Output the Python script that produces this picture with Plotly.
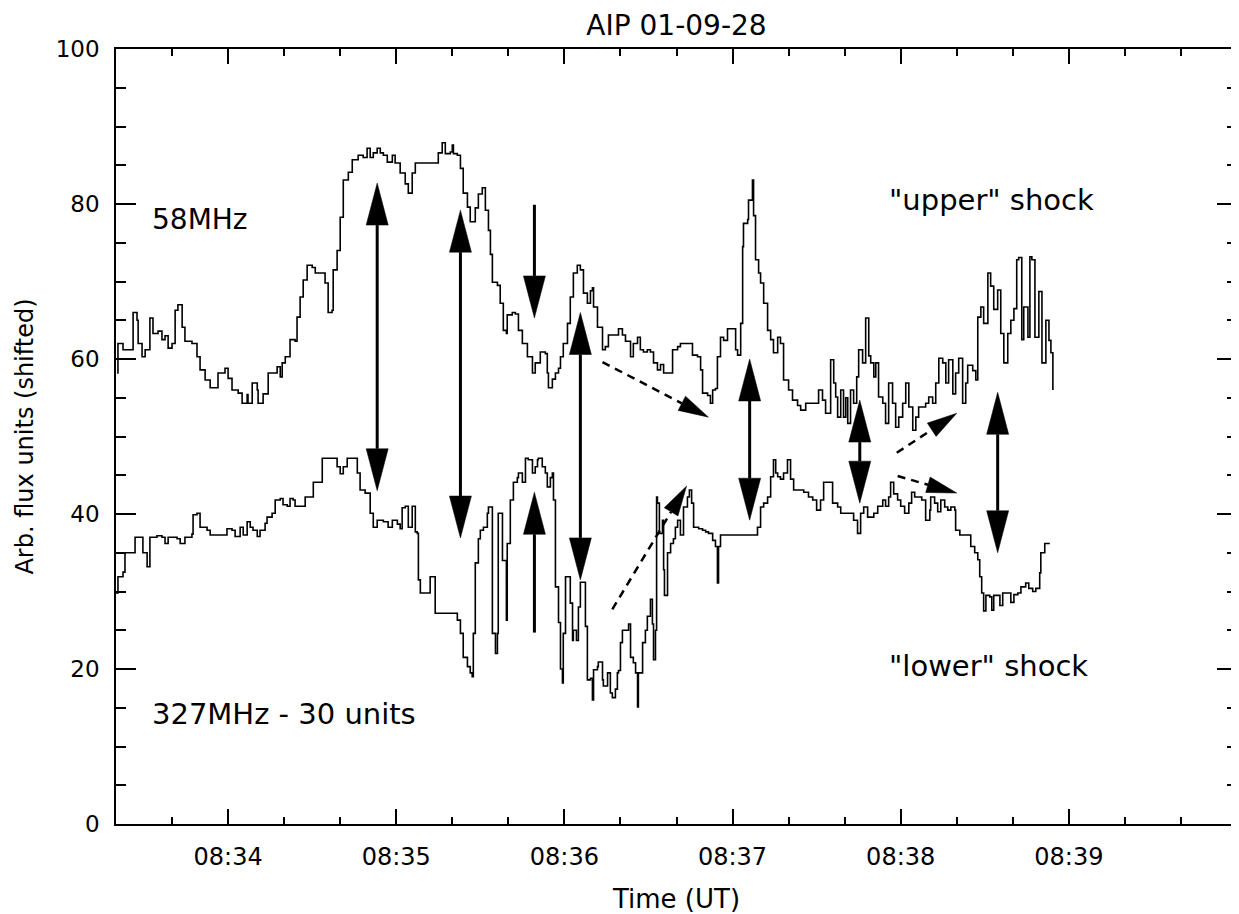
import math
from datetime import datetime, timedelta
import plotly.graph_objects as go

BASE = datetime(2001, 9, 28, 8, 33, 0)

# ---- 58 MHz trace: seconds after 08:33:00, arbitrary flux units ----
t58 = [20.4, 20.7, 22.5, 22.5, 25.7, 26.1, 27.5, 27.9, 29.3, 30.4, 32.1, 33.2, 35.0, 36.4, 37.5, 38.6,
       40.0, 41.1, 42.1, 43.6, 44.6, 47.1, 48.9, 50.0, 51.8, 53.6, 55.4, 56.4, 58.9, 60.0, 61.4, 63.6,
       65.0, 66.8, 67.1, 68.6, 70.4, 70.7, 72.5, 74.3, 77.5, 78.6, 79.3, 80.4, 82.1, 83.9, 84.6, 85.7,
       86.8, 88.2, 90.0, 91.1, 93.6, 94.6, 95.7, 97.1, 97.5, 98.9, 100.0, 101.1, 102.9, 104.3, 106.4,
       108.2, 109.6, 110.7, 111.8, 113.2, 114.3, 115.4, 116.8, 118.6, 119.6, 121.4, 123.2, 124.3, 125.7,
       126.8, 134.6, 135.0, 136.4, 137.5, 139.3, 140.0, 140.4, 141.8, 142.9, 143.9, 145.4, 146.4, 147.5,
       148.2, 149.3, 150.7, 151.8, 152.9, 153.6, 154.3, 156.1, 157.1, 158.2, 159.3, 159.6, 161.4, 162.5,
       163.6, 165.0, 166.8, 168.6, 169.6, 171.4, 173.2, 173.9, 174.3, 175.7, 176.8, 177.9, 178.6, 179.6,
       181.1, 182.1, 183.2, 184.6, 185.7, 186.8, 188.2, 189.3, 190.0, 190.4, 191.8, 193.6, 194.6, 195.7,
       198.9, 199.3, 200.7, 201.8, 203.6, 204.6, 206.1, 207.1, 208.2, 209.6, 210.7, 211.8, 213.2, 214.3,
       215.4, 217.9, 218.6, 220.4, 221.4, 225.0, 225.7, 227.5, 228.6, 229.3, 231.1, 232.1, 232.9, 233.9,
       234.6, 235.7, 236.8, 238.2, 240.0, 241.1, 241.8, 242.9, 243.6, 243.9, 245.4, 245.7, 247.1, 247.5,
       248.2, 249.3, 250.0, 251.1, 252.5, 253.6, 254.6, 256.1, 257.1, 258.2, 260.0, 261.4, 263.2, 264.3,
       266.1, 269.6, 270.7, 272.1, 273.2, 275.0, 276.1, 276.8, 277.5, 278.6, 279.6, 280.4, 281.1, 282.1,
       283.2, 284.3, 285.0, 286.4, 287.5, 288.6, 289.3, 290.4, 291.1, 292.1, 293.6, 294.6, 295.7, 297.1,
       298.2, 299.3, 300.7, 301.8, 302.9, 304.3, 305.4, 306.4, 308.9, 310.0, 311.4, 312.5, 313.6, 315.0,
       316.1, 317.1, 318.6, 319.6, 320.7, 322.1, 323.2, 323.9, 325.7, 326.8, 327.5, 328.6, 329.6, 331.1,
       332.1, 333.2, 334.6, 335.7, 336.8, 338.2, 339.3, 340.4, 341.4, 342.1, 343.2, 343.9, 345.4, 346.1,
       346.8, 347.9, 349.3, 350.4, 351.8, 352.9, 353.6, 354.3]
f58 = [58.2, 62.0, 62.0, 61.2, 61.2, 66.0, 65.0, 62.0, 60.3, 61.2, 65.3, 63.3, 63.6, 62.5, 63.0, 61.4,
       62.0, 66.3, 67.0, 64.1, 62.3, 62.0, 60.3, 58.6, 57.3, 56.3, 56.3, 58.2, 58.8, 57.5, 56.0, 55.6,
       54.3, 55.4, 54.3, 56.9, 56.0, 54.3, 55.5, 58.2, 59.0, 57.7, 59.5, 60.3, 62.5, 62.3, 65.4, 68.0,
       70.2, 72.1, 71.8, 71.1, 71.1, 69.8, 66.0, 66.3, 71.5, 74.0, 78.3, 83.1, 84.1, 85.7, 86.3,
       86.0, 87.2, 86.0, 86.6, 87.2, 86.6, 86.3, 85.4, 86.3, 85.3, 84.0, 82.6, 81.4, 84.0,
       85.3, 85.3, 86.6, 87.9, 86.5, 86.7, 87.6, 86.5, 86.3, 84.6, 81.4, 79.6, 77.7, 77.7,
       79.5, 81.3, 82.1, 79.2, 76.6, 73.5, 69.9, 69.5, 67.2, 63.7, 63.3, 65.7, 66.0, 65.8,
       63.7, 62.0, 60.3, 58.2, 59.5, 60.9, 60.7, 58.2, 56.3, 57.4, 58.2, 58.8, 60.3, 62.0,
       64.6, 68.0, 71.1, 72.1, 71.5, 68.5, 67.2, 68.8, 69.2, 66.7, 64.1, 61.2, 61.6, 63.1,
       63.1, 63.9, 63.1, 62.3, 60.3, 62.0, 62.8, 61.2, 60.9, 61.2, 60.9, 59.5, 58.6, 59.3,
       58.2, 58.2, 61.2, 61.6, 62.0, 62.0, 60.5, 60.3, 58.6, 55.6, 55.3, 54.3, 56.0, 56.2,
       60.3, 62.8, 62.4, 63.9, 63.9, 61.2, 60.5, 64.6, 74.5, 77.5, 78.0, 80.5, 83.1, 78.5,
       72.8, 71.1, 69.8, 67.2, 63.7, 62.5, 60.8, 62.8, 62.0, 57.3, 56.0, 54.7, 54.0, 53.4,
       54.3, 54.3, 56.0, 54.7, 53.0, 59.9, 56.9, 55.1, 52.5, 56.0, 52.5, 55.0, 51.7, 56.0,
       54.3, 57.7, 61.2, 59.5, 65.3, 60.4, 59.5, 57.7, 59.5, 55.1, 54.3, 51.7, 56.9, 54.3,
       51.2, 52.5, 54.3, 56.9, 53.8, 50.8, 52.5, 53.8, 54.3, 55.1, 54.3, 56.9, 60.1, 59.5,
       56.9, 59.9, 55.5, 58.2, 60.1, 54.3, 56.9, 59.2, 58.5, 57.3, 65.4, 66.7, 64.6, 71.1,
       69.4, 66.4, 68.9, 63.3, 59.5, 63.3, 65.0, 66.5, 72.8, 73.1, 62.5, 66.7, 62.8, 73.2,
       72.8, 62.8, 68.7, 59.5, 65.0, 62.4, 60.8, 56.0]

# ---- 327 MHz trace minus 30 units ----
t327 = [20.0, 20.7, 22.5, 23.2, 26.1, 26.8, 29.3, 29.6, 31.1, 32.1, 34.6, 36.4, 37.5, 38.6, 41.8, 42.9,
        44.6, 47.1, 47.5, 48.9, 50.0, 52.5, 53.6, 58.2, 59.6, 61.4, 62.5, 64.3, 65.4, 66.8, 67.9, 68.9,
        70.4, 71.4, 73.2, 73.9, 75.7, 76.8, 78.6, 79.6, 81.1, 82.1, 83.2, 83.9, 85.7, 87.5, 89.3, 90.4,
        92.1, 93.6, 97.5, 98.9, 100.0, 101.1, 102.5, 104.6, 106.1, 107.1, 108.9, 110.7, 111.8, 113.2,
        115.4, 117.1, 118.6, 120.4, 121.4, 122.1, 123.2, 124.3, 125.7, 126.8, 127.5, 127.9, 128.6, 131.1,
        132.1, 133.2, 133.9, 141.1, 141.8, 142.9, 143.9, 145.4, 146.4, 147.1, 147.5, 148.2, 149.3, 150.0,
        151.1, 152.5, 152.9, 153.6, 154.3, 155.4, 156.1, 156.4, 157.1, 157.9, 159.3, 159.6, 160.7, 161.8,
        163.2, 163.6, 165.0, 166.1, 167.1, 168.6, 169.6, 170.4, 170.7, 172.1, 173.2, 173.9, 175.0, 175.7,
        176.1, 176.8, 177.9, 178.6, 179.3, 179.6, 180.4, 181.4, 182.1, 182.9, 183.2, 184.3, 185.0, 185.7,
        186.8, 187.5, 188.2, 189.3, 190.0, 190.4, 191.8, 192.1, 193.6, 193.9, 195.4, 196.4, 197.1, 198.2,
        198.9, 199.3, 200.0, 200.7, 202.5, 202.9, 203.6, 204.6, 205.4, 206.1, 206.4, 207.9, 208.9, 209.6,
        210.7, 211.4, 211.8, 212.5, 212.9, 213.2, 213.9, 215.0, 215.4, 215.7, 216.8, 217.9, 218.9, 219.6,
        220.4, 221.4, 222.5, 223.9, 224.6, 225.4, 226.1, 227.9, 229.3, 230.4, 231.4, 232.9, 233.9, 234.6,
        235.0, 235.7, 247.5, 248.9, 250.0, 251.1, 252.5, 253.6, 254.6, 255.4, 256.1, 257.1, 258.2, 259.6,
        260.7, 261.8, 263.6, 265.4, 267.1, 268.6, 270.0, 271.4, 272.5, 274.3, 275.7, 277.5, 278.6, 281.4,
        283.2, 284.6, 285.7, 286.8, 288.2, 289.3, 290.4, 291.8, 293.6, 294.6, 295.7, 296.4, 297.5, 298.9,
        300.0, 301.4, 302.9, 303.9, 305.0, 307.5, 308.9, 310.4, 310.7, 312.1, 313.2, 314.3, 315.7, 316.8,
        317.9, 319.3, 319.6, 321.1, 324.6, 325.0, 326.4, 327.5, 328.2, 328.9, 329.6, 330.4, 331.8, 332.5,
        333.2, 334.6, 335.4, 336.4, 338.2, 339.3, 340.4, 341.8, 342.9, 344.6, 345.7, 347.1, 348.2, 349.6,
        350.0, 351.4, 353.2]
f327 = [29.8, 31.9, 32.5, 35.0, 35.0, 37.0, 37.0, 35.0, 33.2, 37.0, 37.2, 37.0, 36.2, 37.0, 36.8, 36.2,
        37.0, 37.4, 39.9, 40.1, 38.3, 37.9, 37.3, 37.3, 38.1, 37.9, 37.1, 38.3, 37.3, 39.0, 38.3, 37.9,
        37.1, 37.9, 38.8, 39.6, 40.1, 41.8, 42.0, 41.2, 41.0, 42.0, 41.8, 41.0, 41.0, 42.2, 42.2, 44.1,
        44.1, 47.2, 47.2, 46.1, 45.2, 46.1, 47.2, 47.2, 45.3, 43.1, 42.7, 40.1, 38.3, 39.2,
        39.0, 38.3, 39.2, 38.7, 38.1, 40.8, 41.0, 38.3, 41.0, 37.7, 37.5, 31.5, 29.8, 29.8,
        31.9, 31.9, 27.2, 27.2, 26.3, 24.6, 21.5, 20.3, 19.5, 19.0, 24.6, 33.7, 36.8, 37.9,
        38.3, 40.1, 40.9, 40.9, 24.6, 22.0, 24.6, 40.1, 40.1, 34.0, 26.3, 36.2, 41.8, 44.1,
        44.7, 45.3, 44.1, 47.2, 47.0, 45.3, 46.1, 47.0, 47.2, 46.1, 45.3, 43.5, 44.7, 45.3,
        41.8, 30.6, 26.0, 20.0, 18.2, 24.6, 31.9, 31.9, 28.5, 23.7, 25.0, 23.7, 28.0, 31.2,
        31.2, 25.5, 18.6, 18.8, 16.0, 19.9, 20.3, 20.9, 18.6, 17.8, 19.5, 16.9, 16.3, 17.4,
        19.5, 19.8, 23.4, 25.0, 25.0, 25.8, 21.5, 20.8, 19.5, 15.1, 19.5, 23.4, 25.0, 26.8,
        29.0, 25.8, 21.2, 25.0, 42.2, 41.4, 37.5, 39.2, 32.8, 29.5, 35.0, 36.2, 36.8, 38.3,
        39.2, 37.3, 40.9, 42.2, 43.1, 41.4, 38.3, 38.1, 37.9, 37.7, 37.5, 36.6, 35.8, 31.1,
        35.8, 37.3, 37.3, 38.3, 40.9, 41.4, 42.2, 44.8, 47.0, 45.3, 44.8, 44.5, 45.3, 47.0,
        44.5, 43.1, 43.1, 42.8, 42.2, 41.8, 40.5, 41.8, 44.1, 44.1, 41.4, 40.9, 40.1, 40.1,
        39.2, 37.5, 40.1, 40.9, 39.6, 39.6, 40.1, 41.0, 41.8, 41.0, 42.2, 44.1, 42.6, 41.8,
        41.0, 40.1, 41.4, 42.8, 42.2, 41.8, 39.2, 40.5, 42.2, 41.4, 40.3, 41.8, 40.9, 40.5,
        40.9, 40.5, 37.9, 37.3, 37.3, 35.8, 35.0, 34.1, 31.9, 29.8, 27.5, 29.5, 29.3, 27.6,
        29.5, 29.5, 28.2, 29.8, 29.8, 28.6, 29.6, 29.8, 30.6, 31.1, 30.4, 30.0, 30.4, 32.4,
        35.0, 36.2, 36.2]

# ---- vertical solid arrows (time, tail/first tip, head tip, double-headed?) ----
arrow_t = [113.2, 142.9, 169.3, 169.3, 185.7, 246.1, 285.4, 334.6]
arrow_from = [43.0, 36.9, 79.9, 24.7, 31.5, 39.2, 41.4, 35.0]
arrow_to = [82.7, 79.2, 65.3, 42.8, 66.0, 60.0, 54.7, 55.7]
arrow_double = [True, True, False, False, True, True, True, True]

# ---- dashed arrows ----
dash_t0 = [193.6, 197.1, 298.6, 298.9]
dash_v0 = [59.6, 27.7, 47.9, 44.9]
dash_t1 = [231.4, 223.6, 320.0, 320.0]
dash_v1 = [52.5, 43.6, 53.0, 42.7]

# ---- layout geometry (page body adds an 8px offset) ----
W, H = 1231, 906
ML, MR, MT, MB = 108, 2, 41, 90
T_MIN, T_MAX = 20, 420
PX_T = (W - ML - MR) / (T_MAX - T_MIN)
PX_V = (H - MT - MB) / 100.0
FONT = "DejaVu Sans"


def ts(t):
    return BASE + timedelta(seconds=t)


fig = go.Figure()
fig.add_trace(go.Scatter(x=[ts(t) for t in t58], y=f58, mode="lines", line_shape="hv",
                         line=dict(color="black", width=1.6), showlegend=False))
fig.add_trace(go.Scatter(x=[ts(t) for t in t327], y=f327, mode="lines", line_shape="hv",
                         line=dict(color="black", width=1.6), showlegend=False))


def head_pts(tt, vt, tf, vf, L, Wd):
    dx = (tt - tf) * PX_T
    dy = (vt - vf) * PX_V
    n = math.hypot(dx, dy)
    ux, uy = dx / n, dy / n
    bx, by = -ux * L, -uy * L
    px, py = -uy * Wd / 2, ux * Wd / 2
    pts = [(0, 0), (bx + px, by + py), (bx - px, by - py), (0, 0)]
    xs = [ts(tt + p[0] / PX_T) for p in pts]
    ys = [vt + p[1] / PX_V for p in pts]
    base = (tt + bx / PX_T, vt + by / PX_V)
    return xs, ys, base


def add_head(xs, ys):
    fig.add_trace(go.Scatter(x=xs, y=ys, mode="lines", fill="toself", fillcolor="black",
                             line=dict(color="black", width=0.5), showlegend=False, hoverinfo="skip"))


for t, v0, v1, dbl in zip(arrow_t, arrow_from, arrow_to, arrow_double):
    xs, ys, b1 = head_pts(t, v1, t, v0, 42, 22)
    add_head(xs, ys)
    start = (t, v0)
    if dbl:
        xs2, ys2, b0 = head_pts(t, v0, t, v1, 42, 22)
        add_head(xs2, ys2)
        start = b0
    fig.add_trace(go.Scatter(x=[ts(start[0]), ts(b1[0])], y=[start[1], b1[1]], mode="lines",
                             line=dict(color="black", width=3), showlegend=False, hoverinfo="skip"))

for t0, v0, t1, v1 in zip(dash_t0, dash_v0, dash_t1, dash_v1):
    xs, ys, b = head_pts(t1, v1, t0, v0, 30, 16)
    add_head(xs, ys)
    fig.add_trace(go.Scatter(x=[ts(t0), ts(b[0])], y=[v0, b[1]], mode="lines",
                             line=dict(color="black", width=2.5, dash="8px,6px"),
                             showlegend=False, hoverinfo="skip"))

labels = [
    ("58MHz", 32.0, 78.0, 28),
    ("327MHz - 30 units", 32.0, 14.2, 29),
    ("\"upper\" shock", 295.0, 80.5, 29),
    ("\"lower\" shock", 295.0, 20.4, 29),
]
for txt, t, v, sz in labels:
    fig.add_annotation(x=ts(t), y=v, text=txt, showarrow=False, xanchor="left", yanchor="middle",
                       font=dict(family=FONT, size=sz, color="black"))

axis_common = dict(showline=True, linecolor="black", linewidth=1.5, mirror="allticks",
                   ticks="inside", tickcolor="black", tickwidth=1.5, showgrid=False, zeroline=False,
                   automargin=False)

fig.update_layout(
    width=W, height=H,
    margin=dict(l=ML, r=MR, t=MT, b=MB),
    paper_bgcolor="white", plot_bgcolor="white",
    title=dict(text="AIP 01-09-28", x=0.5, xref="paper", xanchor="center", y=1 - 17 / H,
               yanchor="middle", font=dict(family=FONT, size=28, color="black")),
    xaxis=dict(type="date", range=[ts(T_MIN), ts(T_MAX)], dtick=60000, tick0=ts(0),
               tickformat="%H:%M", ticklen=15, ticklabelstandoff=10,
               tickfont=dict(family=FONT, size=24, color="black"),
               minor=dict(dtick=20000, ticklen=7, ticks="inside", tickcolor="black", tickwidth=1.5),
               title=dict(text="Time (UT)", standoff=22, font=dict(family=FONT, size=26, color="black")),
               **axis_common),
    yaxis=dict(range=[0, 100], dtick=20, ticklen=20, ticklabelstandoff=10,
               tickfont=dict(family=FONT, size=23, color="black"),
               minor=dict(dtick=5, ticklen=10, ticks="inside", tickcolor="black", tickwidth=1.5),
               title=dict(text="Arb. flux units (shifted)", standoff=15,
                          font=dict(family=FONT, size=24, color="black")),
               **axis_common),
)

fig.write_html("out.html")
